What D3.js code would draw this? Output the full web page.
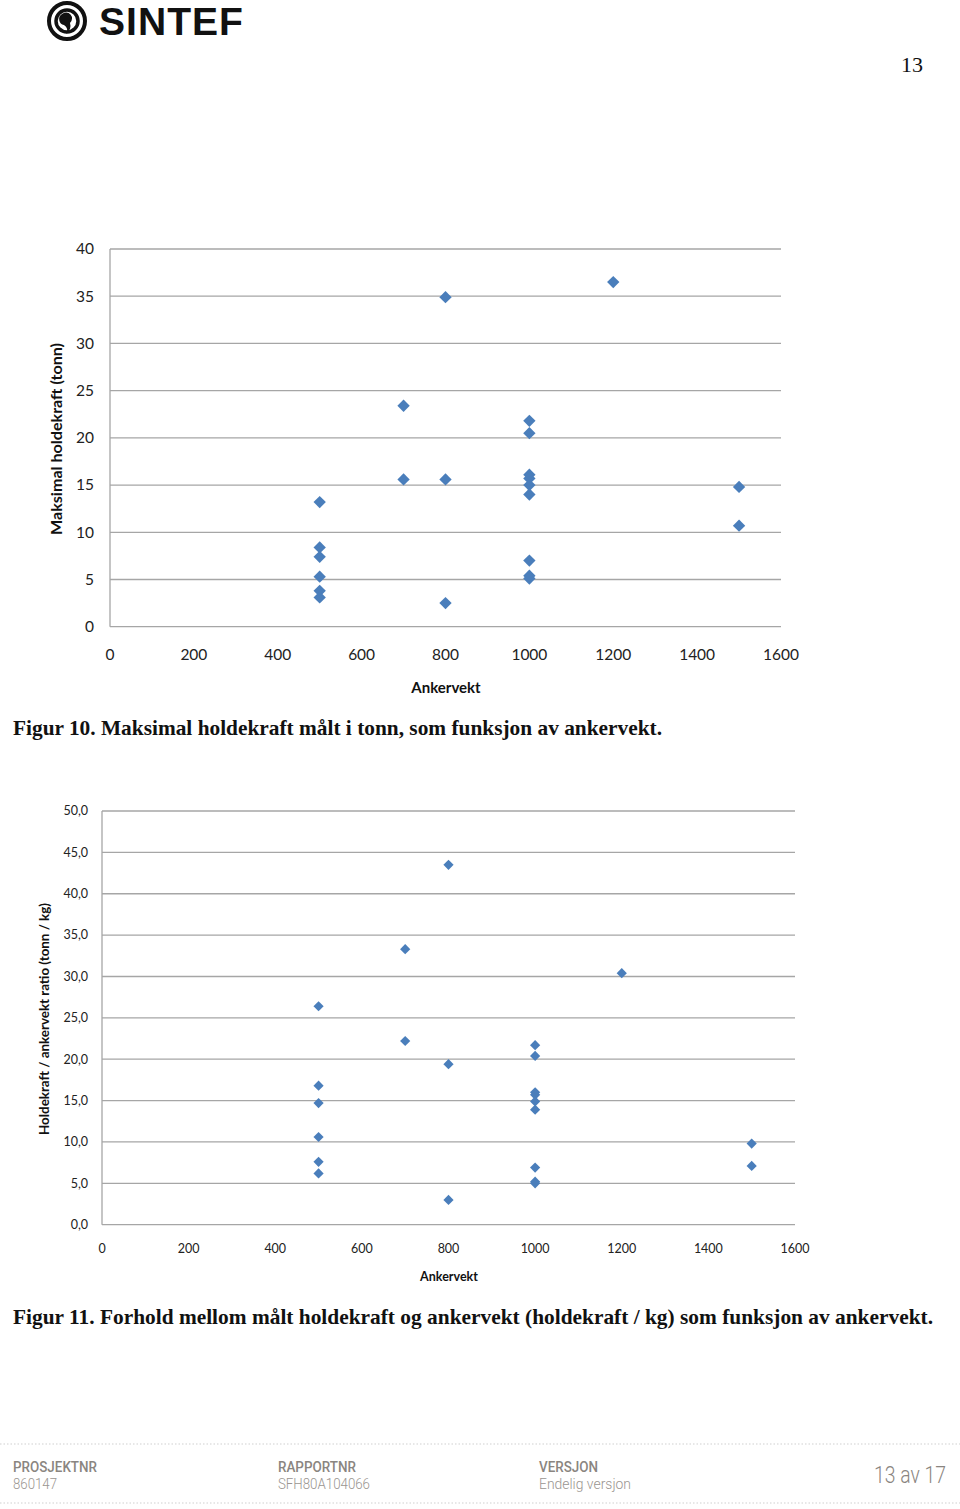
<!DOCTYPE html>
<html><head><meta charset="utf-8">
<script src="https://cdn.jsdelivr.net/npm/d3@7"></script>
<style>body{margin:0;background:#fff}svg{display:block}</style>
</head><body>
<svg id="page" width="960" height="1509"></svg>
<script>
// ---- data ----
const ankervekt1 = [500,500,500,500,500,500, 700,700, 800,800,800, 1000,1000,1000,1000,1000,1000,1000,1000,1000, 1200, 1500,1500];
const holdekraft = [13.2,8.4,7.4,5.3,3.8,3.1, 23.4,15.6, 34.9,15.6,2.5, 21.8,20.5,16.1,15.7,15.0,14.0,7.0,5.4,5.1, 36.5, 14.8,10.7];
const ankervekt2 = [500,500,500,500,500,500, 700,700, 800,800,800, 1000,1000,1000,1000,1000,1000,1000,1000,1000, 1200, 1500,1500];
const ratio = [26.4,16.8,14.7,10.6,7.6,6.2, 33.3,22.2, 43.5,19.4,3.0, 21.7,20.4,16.0,15.7,14.9,13.9,6.9,5.2,5.0, 30.4, 9.8,7.1];
const xTicks = [0,200,400,600,800,1000,1200,1400,1600];
const yTicks1 = [0,5,10,15,20,25,30,35,40];
const yTicks2 = [0,5,10,15,20,25,30,35,40,45,50];

const svg = d3.select("#page");
const blue = "#4a7ebb", grid = "#a6a6a6";

// ---- header ----
const logo = svg.append("g");
logo.append("circle").attr("cx",67).attr("cy",21).attr("r",18).attr("fill","none").attr("stroke","#111").attr("stroke-width",4);
logo.append("circle").attr("cx",67).attr("cy",21).attr("r",11).attr("fill","none").attr("stroke","#111").attr("stroke-width",3.5);
logo.append("path").attr("d","M62,14 a6,6 0 1,1 8,9 q2,6 -4,11 q3,-6 -2,-9 a6,6 0 0,1 -2,-11z").attr("fill","#111");
logo.append("text").attr("x",99).attr("y",35).attr("font-family","Liberation Sans, Arial, sans-serif")
  .attr("font-weight","bold").attr("font-size",39).attr("letter-spacing",1).attr("fill","#111")
  .attr("textLength",145).attr("lengthAdjust","spacingAndGlyphs").text("SINTEF");
svg.append("text").attr("x",923).attr("y",72).attr("text-anchor","end")
  .attr("font-family","Liberation Serif, Times New Roman, serif").attr("font-size",22).attr("fill","#111").text("13");

// ---- chart helper ----
function chart(o){
  const x = d3.scaleLinear().domain([0,1600]).range([o.x0,o.x1]);
  const y = d3.scaleLinear().domain([0,o.ymax]).range([o.y0,o.y1]);
  const g = svg.append("g");
  g.selectAll("line.grid").data(o.yTicks).join("line")
    .attr("x1",o.x0).attr("x2",o.x1).attr("y1",d=>y(d)).attr("y2",d=>y(d))
    .attr("stroke",grid).attr("stroke-width",1.3);
  g.append("line").attr("x1",o.x0).attr("x2",o.x0).attr("y1",o.y0).attr("y2",o.y1)
    .attr("stroke",grid).attr("stroke-width",1.3);
  const ff = "Lato, 'Open Sans', sans-serif";
  g.selectAll("text.yt").data(o.yTicks).join("text")
    .attr("x",o.ylx).attr("y",d=>y(d)).attr("dy","0.35em").attr("text-anchor","end")
    .attr("font-family",ff).attr("font-size",o.fs).attr("fill","#222").text(o.yfmt);
  g.selectAll("text.xt").data(xTicks).join("text")
    .attr("x",d=>x(d)).attr("y",o.xly).attr("dy","0.35em").attr("text-anchor","middle")
    .attr("font-family",ff).attr("font-size",o.fs).attr("fill","#222").text(d=>d);
  g.append("text").attr("x",o.xtx).attr("y",o.xty).attr("dy","0.35em").attr("text-anchor","middle")
    .attr("font-family",ff).attr("font-weight","bold").attr("font-size",o.tfs).attr("fill","#111").text("Ankervekt");
  g.append("text").attr("transform",`translate(${o.ytx},${o.yty}) rotate(-90)`).attr("dy","0.35em")
    .attr("text-anchor","middle").attr("font-family",ff).attr("font-weight","bold").attr("font-size",o.tfs)
    .attr("fill","#111").attr("textLength",o.ytl).attr("lengthAdjust","spacingAndGlyphs").text(o.ytitle);
  const sym = d3.symbol().type(d3.symbolSquare).size(o.msize);
  g.selectAll("path.pt").data(o.xs.map((v,i)=>[v,o.ys[i]])).join("path")
    .attr("d",sym).attr("fill",blue)
    .attr("transform",d=>`translate(${x(d[0])},${y(d[1])}) rotate(45)`);
}

chart({x0:110,x1:781,y0:626.7,y1:249,ymax:40,yTicks:yTicks1,ylx:94,xly:655,fs:15.5,tfs:15,
  xtx:446,xty:688,ytx:57,yty:439,ytl:192,ytitle:"Maksimal holdekraft (tonn)",yfmt:d=>d,
  xs:ankervekt1,ys:holdekraft,msize:76});
chart({x0:102,x1:795,y0:1224.7,y1:811,ymax:50,yTicks:yTicks2,ylx:88,xly:1249,fs:12.5,tfs:12.5,
  xtx:449,xty:1277,ytx:45,yty:1019,ytl:232,ytitle:"Holdekraft / ankervekt ratio (tonn / kg)",yfmt:d=>d3.format(".1f")(d).replace(".",","),
  xs:ankervekt2,ys:ratio,msize:52});

// ---- captions ----
const cf = "Liberation Serif, Times New Roman, serif";
svg.append("text").attr("x",13).attr("y",735).attr("font-family",cf).attr("font-weight","bold").attr("font-size",21)
  .attr("fill","#111").attr("textLength",649).attr("lengthAdjust","spacingAndGlyphs")
  .text("Figur 10. Maksimal holdekraft målt i tonn, som funksjon av ankervekt.");
svg.append("text").attr("x",13).attr("y",1324).attr("font-family",cf).attr("font-weight","bold").attr("font-size",21)
  .attr("fill","#111").attr("textLength",920).attr("lengthAdjust","spacingAndGlyphs")
  .text("Figur 11. Forhold mellom målt holdekraft og ankervekt (holdekraft / kg) som funksjon av ankervekt.");

// ---- footer ----
[1444,1503].forEach(yy=>svg.append("line").attr("x1",0).attr("x2",960).attr("y1",yy).attr("y2",yy)
  .attr("stroke","#cfcfcf").attr("stroke-width",1).attr("stroke-dasharray","1.5,2"));
const foot = [["PROSJEKTNR","860147",13,84,44],["RAPPORTNR","SFH80A104066",278,78,92],["VERSJON","Endelig versjon",539,59,92]];
const footF = "Roboto, 'DejaVu Sans Condensed', sans-serif";
foot.forEach(f=>{
  svg.append("text").attr("x",f[2]).attr("y",1472).attr("font-family",footF).attr("font-weight","500")
    .attr("font-size",14).attr("fill","#8a8580").attr("textLength",f[3]).attr("lengthAdjust","spacingAndGlyphs").text(f[0]);
  svg.append("text").attr("x",f[2]).attr("y",1489).attr("font-family",footF).attr("font-weight","300")
    .attr("font-size",14).attr("fill","#9a9590").attr("textLength",f[4]).attr("lengthAdjust","spacingAndGlyphs").text(f[1]);
});
svg.append("text").attr("x",946).attr("y",1483).attr("text-anchor","end").attr("font-family",footF).attr("font-weight","300")
  .attr("font-size",23).attr("fill","#8a8580").attr("textLength",72).attr("lengthAdjust","spacingAndGlyphs").text("13 av 17");
</script>
</body></html>
